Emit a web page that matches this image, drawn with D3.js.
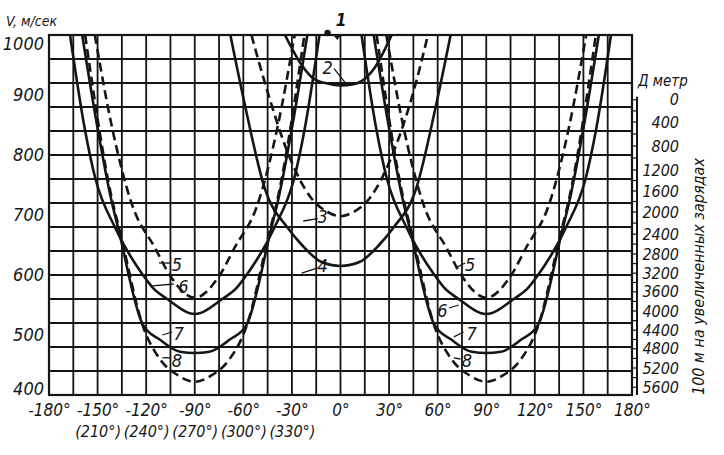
<!DOCTYPE html>
<html>
<head>
<meta charset="utf-8">
<script src="https://cdn.jsdelivr.net/npm/d3@7"></script>
<style>
  body { margin: 0; background: #fff; }
  text { font-family: "DejaVu Sans Condensed", "DejaVu Sans", sans-serif; font-style: italic; fill: #151515; }
</style>
</head>
<body>
<svg id="chart" width="724" height="455"></svg>
<script>
// angle ticks (degrees) and the alternative labels under the negative ones
var angleTicks = [-180, -150, -120, -90, -60, -30, 0, 30, 60, 90, 120, 150, 180];
var altAngles = [-150, -120, -90, -60, -30];
var altLabels = ["(210°)", "(240°)", "(270°)", "(300°)", "(330°)"];
var vTicks = [400, 500, 600, 700, 800, 900, 1000];

// right scale: distance D (m) and the speed V it sits at
var distTicks = [0, 400, 800, 1200, 1600, 2000, 2400, 2800, 3200, 3600, 4000, 4400, 4800, 5200, 5600];
var distAtV  = [892, 855, 815, 775, 740, 705, 668, 635, 603, 572, 540, 508, 477, 445, 413];

// curves: [angle, V]
var curve1 = [[-8, 1000]];
var curve2 = [[-34.3, 1000], [-24, 950], [-17, 928], [-8, 919], [0, 916], [8, 918], [13, 923], [21, 945], [31.6, 1000]];
var curve3 = [[-55, 1000], [-45, 905], [-32, 800], [-18, 728], [-8, 705], [0, 698], [8, 705], [18, 728], [32, 800], [45, 905], [54, 1000]];
var curve4 = [[-68, 1000], [-59, 883], [-46.6, 743], [-32.4, 678], [-23.8, 650], [-12, 622], [0, 615], [12, 622], [23.8, 650], [32.4, 678], [46.6, 743], [59, 883], [68, 1000]];
// curves 5..8 : the U round -90°, the U round +90° is its mirror
var curve5 = [[-151.7, 1000], [-141, 845], [-128.7, 717], [-114.5, 645], [-105, 598], [-90, 562], [-75, 598], [-65.5, 645], [-51.3, 717], [-39, 845], [-28.3, 1000]];
var curve6 = [[-167, 1000], [-158, 845], [-151.5, 762], [-139, 678], [-122, 600], [-115.7, 578], [-107, 560], [-90, 535], [-73, 560], [-64.3, 578], [-58, 600], [-41, 678], [-28.5, 762], [-22, 845], [-13, 1000]];
var curve7 = [[-159.5, 1000], [-151, 860], [-141.5, 725], [-137, 675], [-122, 517], [-111.4, 492], [-99, 472], [-90, 470], [-81, 472], [-68.6, 492], [-58, 517], [-43, 675], [-38.5, 725], [-29, 860], [-20.5, 1000]];
var curve8 = [[-157.7, 1000], [-141, 725], [-136, 670], [-122, 515], [-111, 458], [-100.5, 433], [-90, 422], [-79.5, 433], [-69, 458], [-58, 515], [-44, 670], [-39, 725], [-22.3, 1000]];

var labels = [
  {t: "2", a: -8, v: 946, from: [-4, 944], to: [4, 917]},
  {t: "3", a: -11, v: 697, from: [-14, 694], to: [-23, 690]},
  {t: "4", a: -11, v: 615, from: [-14, 612], to: [-24, 603]},
  {t: "5", a: -101, v: 617, from: [-105, 620], to: [-112, 620]},
  {t: "6", a: -97, v: 580, from: [-103, 585], to: [-116, 582]},
  {t: "7", a: -100, v: 502, from: [-104, 505], to: [-110, 500]},
  {t: "8", a: -101, v: 458, from: [-105, 462], to: [-110, 462]},
  {t: "5", a: 80, v: 617, from: [77, 620], to: [71, 612]},
  {t: "6", a: 63, v: 540, from: [67, 545], to: [73, 550]},
  {t: "7", a: 81, v: 502, from: [76, 505], to: [70, 497]},
  {t: "8", a: 78, v: 458, from: [74, 460], to: [70, 462]}
];

var margin = {top: 35, right: 92, bottom: 60, left: 49};
var svg = d3.select("#chart");
var width = +svg.attr("width") - margin.left - margin.right,
    height = +svg.attr("height") - margin.top - margin.bottom;
var g = svg.append("g").attr("transform", "translate(" + margin.left + "," + margin.top + ")");

var x = d3.scaleLinear().domain([-180, 180]).range([0, width]);
var y = d3.scaleLinear().domain([400, 1000]).range([height, 0]);
var distToV = d3.scaleLinear().domain(distTicks).range(distAtV);

var ink = "#151515";

// grid
g.selectAll(".vgrid").data(d3.range(-180, 181, 15)).enter().append("line")
  .attr("x1", d => x(d)).attr("x2", d => x(d)).attr("y1", 0).attr("y2", height)
  .attr("stroke", ink).attr("stroke-width", 1.8);
g.selectAll(".hgrid").data(d3.range(400, 1001, 40)).enter().append("line")
  .attr("x1", 0).attr("x2", width).attr("y1", d => y(d)).attr("y2", d => y(d))
  .attr("stroke", ink).attr("stroke-width", 1.8);
g.append("rect").attr("width", width).attr("height", height)
  .attr("fill", "none").attr("stroke", ink).attr("stroke-width", 2.2);

// x axis labels
var xa = g.append("g").attr("transform", "translate(0," + height + ")")
  .call(d3.axisBottom(x).tickValues(angleTicks).tickFormat(d => d + "°").tickSize(0).tickPadding(9));
xa.select(".domain").remove();
xa.selectAll("text").attr("font-size", 17).attr("font-family", null).attr("fill", ink);
var xb = g.append("g").attr("transform", "translate(0," + height + ")")
  .call(d3.axisBottom(x).tickValues(altAngles).tickFormat((d, i) => altLabels[i]).tickSize(0).tickPadding(31));
xb.select(".domain").remove();
xb.selectAll("text").attr("font-size", 16).attr("font-family", null).attr("fill", ink);

// y axis labels
var ya = g.append("g")
  .call(d3.axisLeft(y).tickValues(vTicks).tickFormat(d3.format("d")).tickSize(0).tickPadding(5));
ya.select(".domain").remove();
ya.selectAll("text").attr("font-size", 18).attr("font-family", null).attr("fill", ink)
  .attr("dy", d => d === 1000 ? "0.8em" : d === 400 ? "-0.05em" : "0.32em");
g.append("text").attr("x", -43).attr("y", -9).attr("font-size", 14).text("V, м/сек");

// distance scale on the right
var dx = width + 5;
var da = g.append("g").attr("transform", "translate(" + dx + ",0)");
da.append("line").attr("x1", 0).attr("x2", 0).attr("y1", y(distToV(0)) - 3).attr("y2", height)
  .attr("stroke", ink).attr("stroke-width", 2);
da.selectAll(".dtick").data(d3.range(0, 5601, 200)).enter().append("line")
  .attr("x1", -4).attr("x2", 0).attr("y1", d => y(distToV(d))).attr("y2", d => y(distToV(d)))
  .attr("stroke", ink).attr("stroke-width", 1.2);
da.selectAll(".dlab").data(distTicks).enter().append("text")
  .attr("x", 42).attr("y", d => y(distToV(d))).attr("dy", "0.35em")
  .attr("text-anchor", "end").attr("font-size", 16).text(d => d);
da.append("text").attr("x", 1).attr("y", y(distToV(0)) - 14).attr("font-size", 15).text("Д метр");
svg.append("text")
  .attr("transform", "translate(704," + (margin.top + height) + ") rotate(-90)")
  .attr("font-size", 16).text("100 м на увеличенных зарядах");

// curves
g.append("clipPath").attr("id", "plot").append("rect").attr("width", width).attr("height", height);
var line = d3.line().x(d => x(d[0])).y(d => y(d[1])).curve(d3.curveMonotoneX);
var mirror = function (pts) { return pts.map(p => [-p[0], p[1]]).reverse(); };
var cg = g.append("g").attr("clip-path", "url(#plot)");
var series = [
  {pts: curve2, dash: null}, {pts: curve3, dash: "9,5"}, {pts: curve4, dash: null},
  {pts: curve5, dash: "9,5"}, {pts: mirror(curve5), dash: "9,5"},
  {pts: curve6, dash: null}, {pts: mirror(curve6), dash: null},
  {pts: curve7, dash: null}, {pts: mirror(curve7), dash: null},
  {pts: curve8, dash: "9,5"}, {pts: mirror(curve8), dash: "9,5"}
];
cg.selectAll(".curve").data(series).enter().append("path")
  .attr("d", d => line(d.pts)).attr("fill", "none").attr("stroke", ink)
  .attr("stroke-width", 2.6).attr("stroke-dasharray", d => d.dash);

// curve 1: a point at the top
g.selectAll(".c1").data(curve1).enter().append("circle")
  .attr("cx", d => x(d[0])).attr("cy", d => y(d[1]) - 2).attr("r", 3.2).attr("fill", ink);
g.append("path").attr("d", "M" + (x(-2) - 4) + ",0L" + (x(-2) + 4) + ",0L" + x(-2) + ",5Z").attr("fill", ink);
g.append("text").attr("x", x(-3)).attr("y", -9).attr("font-size", 17).attr("font-weight", "bold").text("1");

// curve numbers with leaders
labels.forEach(function (l) {
  g.append("line").attr("x1", x(l.from[0])).attr("y1", y(l.from[1]))
    .attr("x2", x(l.to[0])).attr("y2", y(l.to[1])).attr("stroke", ink).attr("stroke-width", 1.3);
  g.append("text").attr("x", x(l.a)).attr("y", y(l.v)).attr("dy", "0.35em")
    .attr("text-anchor", "middle").attr("font-size", 18).text(l.t);
});
</script>
</body>
</html>
